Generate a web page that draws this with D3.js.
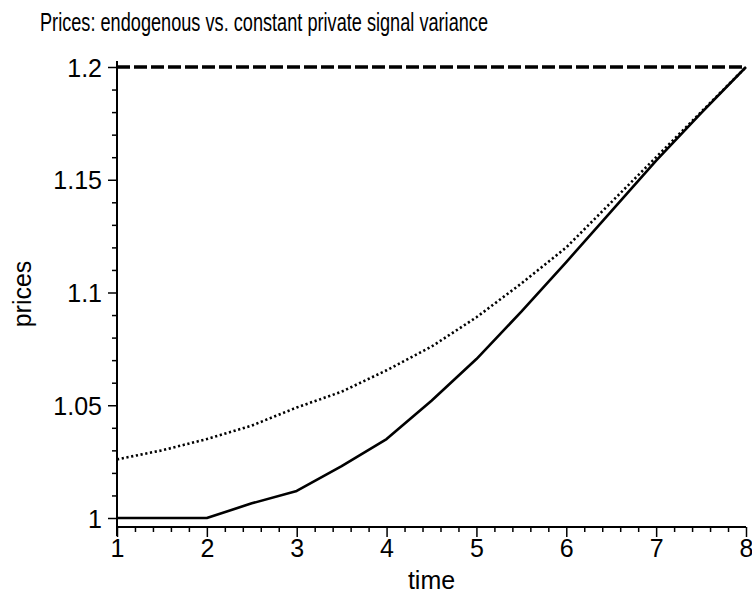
<!DOCTYPE html>
<html>
<head>
<meta charset="utf-8">
<script src="https://cdn.jsdelivr.net/npm/d3@7"></script>
<style>
  html, body { margin: 0; padding: 0; background: #fff; }
  svg { display: block; }
  text { font-family: "Liberation Sans", Arial, sans-serif; fill: #000; }
</style>
</head>
<body>
<svg id="chart" width="752" height="596"></svg>
<script>
// ---- data ----
const times = [1, 1.5, 2, 2.5, 3, 3.5, 4, 4.5, 5, 5.5, 6, 6.5, 7, 7.5, 8];
const endogenousPrices = [1.000, 1.000, 1.000, 1.0065, 1.012, 1.023, 1.035, 1.052, 1.0705, 1.0915, 1.1135, 1.136, 1.1585, 1.1795, 1.200];
const constantPrices   = [1.026, 1.030, 1.035, 1.041, 1.049, 1.056, 1.0655, 1.076, 1.089, 1.104, 1.120, 1.140, 1.160, 1.180, 1.200];
const fullInfoTimes  = [1, 8];
const fullInfoPrices = [1.2, 1.2];
const xTicks = [1, 2, 3, 4, 5, 6, 7, 8];
const yTicks = [1, 1.05, 1.1, 1.15, 1.2];
const yTickLabels = ["1", "1.05", "1.1", "1.15", "1.2"];
const titleText = "Prices: endogenous vs. constant private signal variance";
const xLabel = "time";
const yLabel = "prices";

// ---- layout ----
const svg = d3.select("#chart");
const x = d3.scaleLinear().domain([1, 8]).range([117, 746]);
const y = d3.scaleLinear().domain([1, 1.2]).range([518, 67]);
const xAxisY = 527;
const fs = 25;

// minor ticks
const xMinor = d3.range(1, 8.0001, 0.2).filter(v => Math.abs(v - Math.round(v)) > 1e-6);
const yMinor = d3.range(1, 1.2001, 0.01).filter(v => Math.abs(v * 20 - Math.round(v * 20)) > 1e-6);

// Y axis
const yAxis = d3.axisLeft(y).tickValues(yTicks).tickSize(9).tickPadding(6)
  .tickFormat((d, i) => yTickLabels[i]);
const gy = svg.append("g").attr("transform", `translate(${x(1)},0)`).call(yAxis);
gy.select(".domain").remove();
gy.selectAll(".tick line").attr("stroke", "#000").attr("stroke-width", 1.5);
gy.selectAll(".tick text").attr("font-size", fs).attr("font-family", null).attr("dy", "0.36em");

const gyMinor = svg.append("g").attr("transform", `translate(${x(1)},0)`)
  .call(d3.axisLeft(y).tickValues(yMinor).tickSize(5).tickFormat(""));
gyMinor.select(".domain").remove();
gyMinor.selectAll(".tick line").attr("stroke", "#000").attr("stroke-width", 1.5);

// X axis
const xAxis = d3.axisBottom(x).tickValues(xTicks).tickSize(10).tickPadding(2)
  .tickFormat(d3.format("d"));
const gx = svg.append("g").attr("transform", `translate(0,${xAxisY})`).call(xAxis);
gx.select(".domain").remove();
gx.selectAll(".tick line").attr("stroke", "#000").attr("stroke-width", 1.5);
gx.selectAll(".tick text").attr("font-size", fs).attr("font-family", null);

const gxMinor = svg.append("g").attr("transform", `translate(0,${xAxisY})`)
  .call(d3.axisBottom(x).tickValues(xMinor).tickSize(5).tickFormat(""));
gxMinor.select(".domain").remove();
gxMinor.selectAll(".tick line").attr("stroke", "#000").attr("stroke-width", 1.5);

// axis lines
svg.append("line")
  .attr("x1", x(1)).attr("x2", x(1))
  .attr("y1", y(1.2) - 6).attr("y2", xAxisY + 9)
  .attr("stroke", "#000").attr("stroke-width", 2);
svg.append("line")
  .attr("x1", x(1)).attr("x2", x(8))
  .attr("y1", xAxisY).attr("y2", xAxisY)
  .attr("stroke", "#000").attr("stroke-width", 2);

// lines
const line = d3.line().x(d => x(d[0])).y(d => y(d[1]));

svg.append("path")
  .datum(fullInfoTimes.map((t, i) => [t, fullInfoPrices[i]]))
  .attr("d", line).attr("fill", "none").attr("stroke", "#000")
  .attr("stroke-width", 3.5).attr("stroke-dasharray", "13,4");

svg.append("path")
  .datum(times.map((t, i) => [t, constantPrices[i]]))
  .attr("d", line).attr("fill", "none").attr("stroke", "#000")
  .attr("stroke-width", 2.6).attr("stroke-dasharray", "2.2,2.6");

svg.append("path")
  .datum(times.map((t, i) => [t, endogenousPrices[i]]))
  .attr("d", line).attr("fill", "none").attr("stroke", "#000")
  .attr("stroke-width", 2.6).attr("stroke-linejoin", "round");

// title
svg.append("text")
  .attr("x", 40).attr("y", 31)
  .attr("font-size", fs)
  .attr("textLength", 448).attr("lengthAdjust", "spacingAndGlyphs")
  .text(titleText);

// axis labels
svg.append("text")
  .attr("x", (x(1) + x(8)) / 2).attr("y", 589)
  .attr("text-anchor", "middle").attr("font-size", fs)
  .text(xLabel);

svg.append("text")
  .attr("transform", `translate(31,294) rotate(-90)`)
  .attr("text-anchor", "middle").attr("font-size", fs)
  .text(yLabel);
</script>
</body>
</html>
